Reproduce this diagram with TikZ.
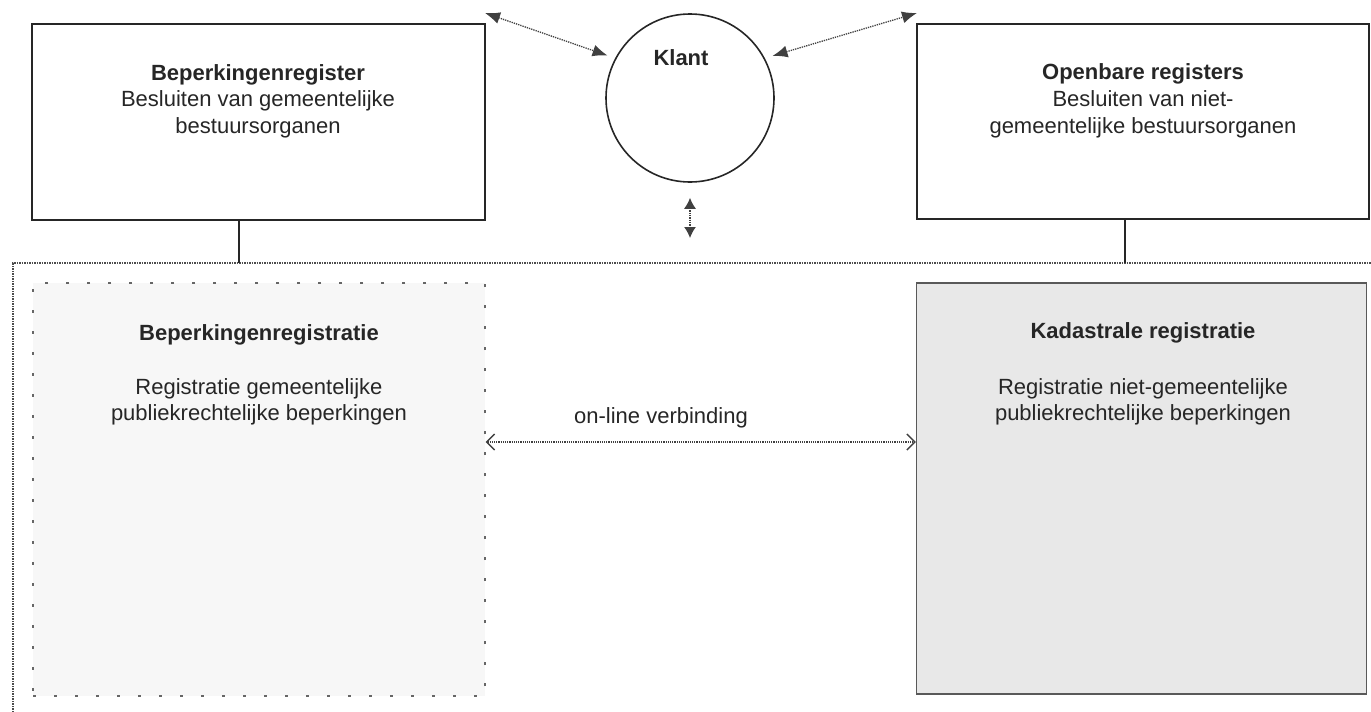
\documentclass[tikz,border=0pt]{standalone}
\usepackage{fontspec}
\setmainfont{Liberation Sans}
\usetikzlibrary{arrows.meta}
\begin{document}
\begin{tikzpicture}[x=1pt,y=-1pt,
  box/.style={draw=black!85,line width=1.6pt,rectangle,inner sep=0pt},
  lbl/.style={anchor=base,inner sep=0pt,font=\fontsize{22}{27}\selectfont,text=black!85},
  ttl/.style={lbl,font=\fontsize{22}{27}\selectfont\bfseries},
  dotarrow/.style={densely dotted,line width=1.3pt,draw=black!75},
  conn/.style={line width=1.6pt,draw=black!85}]
\useasboundingbox (0,0) rectangle (1371,712);
% frame
\draw[densely dotted,line width=1.5pt,draw=black!70] (13,712) -- (13,263) -- (1371,263);
% top boxes
\node[box,minimum width=453pt,minimum height=196pt] (lb) at (258.5,122) {};
\node[box,minimum width=452pt,minimum height=195pt] (rb) at (1143,121.5) {};
\node[ttl] (lbt) at (258,80) {Beperkingenregister};
\node[lbl] (lb1) at (258,106) {Besluiten van gemeentelijke};
\node[lbl] (lb2) at (258,133) {bestuursorganen};
\node[ttl] (rbt) at (1143,79) {Openbare registers};
\node[lbl] (rb1) at (1143,106) {Besluiten van niet-};
\node[lbl] (rb2) at (1143,133) {gemeentelijke bestuursorganen};
% circle
\node[draw=black!85,line width=1.6pt,circle,minimum size=168pt,inner sep=0pt] (kl) at (690,98) {};
\node[ttl] (klt) at (681,65) {Klant};
% connectors to frame
\coordinate (c1) at (239,263);
\coordinate (c2) at (1125,263);
\draw[conn] (lb.south -| c1) -- (c1);
\draw[conn] (rb.south -| c2) -- (c2);
% lower boxes
\node[rectangle,fill=black!3,draw=black!60,line width=1.4pt,dash pattern=on 3pt off 18pt,minimum width=452pt,minimum height=413pt,inner sep=0pt] (lx) at (259,489.5) {};
\node[rectangle,fill=black!9,draw=black!65,line width=1.4pt,minimum width=450pt,minimum height=411pt,inner sep=0pt] (rx) at (1141.5,488.5) {};
\node[ttl] (lxt) at (259,340) {Beperkingenregistratie};
\node[lbl] (lx1) at (259,394) {Registratie gemeentelijke};
\node[lbl] (lx2) at (259,420) {publiekrechtelijke beperkingen};
\node[ttl] (rxt) at (1143,338) {Kadastrale registratie};
\node[lbl] (rx1) at (1143,394) {Registratie niet-gemeentelijke};
\node[lbl] (rx2) at (1143,420) {publiekrechtelijke beperkingen};
% arrows top
\coordinate (la) at (485,13);
\coordinate (ra) at (917,13);
\coordinate (vb) at (690,238);
\draw[dotarrow,{Latex[length=15pt,width=12pt]}-{Latex[length=15pt,width=12pt]},shorten >=8pt] (la) -- (kl.152);
\draw[dotarrow,{Latex[length=15pt,width=12pt]}-{Latex[length=15pt,width=12pt]},shorten <=8pt] (kl.28) -- (ra);
\draw[dotarrow,{Latex[length=11pt,width=12pt]}-{Latex[length=11pt,width=12pt]},shorten <=15pt] (kl.south) -- (vb);
% on-line connection
\coordinate (ol) at (700,442);
\node[lbl] (olt) at (661,423) {on-line verbinding};
\draw[dotarrow,line width=1.2pt,{Straight Barb[length=8pt,width=16pt,line width=1.4pt]}-{Straight Barb[length=8pt,width=16pt,line width=1.4pt]}] (lx.east |- ol) -- (rx.west |- ol);
\end{tikzpicture}
\end{document}
